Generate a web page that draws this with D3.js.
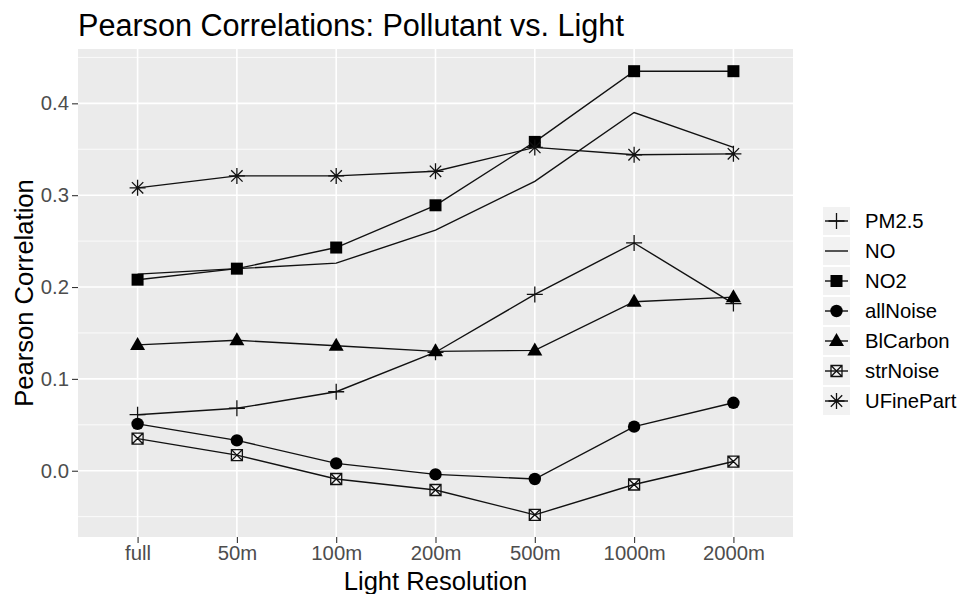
<!DOCTYPE html>
<html>
<head>
<meta charset="utf-8">
<script src="https://cdn.jsdelivr.net/npm/d3@7"></script>
<style>
  body { margin: 0; background: #fff; }
  text { font-family: "Liberation Sans", Arial, Helvetica, sans-serif; }
</style>
</head>
<body>
<svg id="chart" width="960" height="594"></svg>
<script>
var categories = ["full", "50m", "100m", "200m", "500m", "1000m", "2000m"]
var seriesNames = ["PM2.5", "NO", "NO2", "allNoise", "BlCarbon", "strNoise", "UFinePart"]
var seriesShapes = ["plus", "none", "square", "circle", "triangle", "squarecross", "asterisk"]

var pm25      = [0.061, 0.068, 0.086, 0.129, 0.192, 0.248, 0.182]
var no        = [0.214, 0.220, 0.226, 0.262, 0.315, 0.390, 0.352]
var no2       = [0.208, 0.220, 0.243, 0.289, 0.358, 0.435, 0.435]
var allNoise  = [0.051, 0.033, 0.008, -0.004, -0.009, 0.048, 0.074]
var blCarbon  = [0.137, 0.142, 0.136, 0.130, 0.131, 0.184, 0.189]
var strNoise  = [0.035, 0.017, -0.009, -0.021, -0.048, -0.015, 0.010]
var uFinePart = [0.308, 0.321, 0.321, 0.326, 0.352, 0.344, 0.345]

var yTicks = [0.0, 0.1, 0.2, 0.3, 0.4]
var yMinor = [-0.05, 0.05, 0.15, 0.25, 0.35, 0.45]

var allValues = [pm25, no, no2, allNoise, blCarbon, strNoise, uFinePart]
var series = seriesNames.map(function (name, i) {
  return { name: name, shape: seriesShapes[i], values: allValues[i] }
})

var panel = { left: 78, right: 793, top: 49, bottom: 537 }
var svg = d3.select("#chart")

var x = d3.scalePoint()
  .domain(categories)
  .range([panel.left, panel.right])
  .padding(0.6)

var ext = d3.extent(d3.merge(allValues))
var pad = (ext[1] - ext[0]) * 0.05
var y = d3.scaleLinear()
  .domain([ext[0] - pad, ext[1] + pad])
  .range([panel.bottom, panel.top])

// panel background + grid
svg.append("rect")
  .attr("x", panel.left).attr("y", panel.top)
  .attr("width", panel.right - panel.left)
  .attr("height", panel.bottom - panel.top)
  .attr("fill", "#ebebeb")

var grid = svg.append("g")
grid.selectAll(".minor").data(yMinor).enter().append("line")
  .attr("x1", panel.left).attr("x2", panel.right)
  .attr("y1", function (d) { return y(d) }).attr("y2", function (d) { return y(d) })
  .attr("stroke", "#fff").attr("stroke-width", 0.8)
grid.selectAll(".major").data(yTicks).enter().append("line")
  .attr("x1", panel.left).attr("x2", panel.right)
  .attr("y1", function (d) { return y(d) }).attr("y2", function (d) { return y(d) })
  .attr("stroke", "#fff").attr("stroke-width", 1.6)
grid.selectAll(".vmajor").data(categories).enter().append("line")
  .attr("x1", function (d) { return x(d) }).attr("x2", function (d) { return x(d) })
  .attr("y1", panel.top).attr("y2", panel.bottom)
  .attr("stroke", "#fff").attr("stroke-width", 1.6)

// axes
var xAxis = svg.append("g")
  .attr("transform", "translate(0," + panel.bottom + ")")
  .call(d3.axisBottom(x).tickSize(6).tickPadding(3))
var yAxis = svg.append("g")
  .attr("transform", "translate(" + panel.left + ",0)")
  .call(d3.axisLeft(y).tickValues(yTicks).tickFormat(d3.format(".1f")).tickSize(6).tickPadding(3))

;[xAxis, yAxis].forEach(function (a) {
  a.select(".domain").remove()
  a.selectAll(".tick line").attr("stroke", "#333").attr("stroke-width", 1.1)
  a.selectAll(".tick text")
    .attr("fill", "#4d4d4d")
    .style("font-size", "20.3px")
    .style("font-family", "'Liberation Sans', Arial, sans-serif")
})

// lines
var line = d3.line()
  .x(function (d, i) { return x(categories[i]) })
  .y(function (d) { return y(d) })

svg.append("g").selectAll("path").data(series).enter().append("path")
  .attr("d", function (d) { return line(d.values) })
  .attr("fill", "none")
  .attr("stroke", "#111")
  .attr("stroke-width", 1.4)

function drawShape(sel, shape) {
  if (shape == "plus") {
    sel.append("path").attr("d", "M-8,0H8M0,-8V8")
      .attr("stroke", "#111").attr("stroke-width", 1.3).attr("fill", "none")
  } else if (shape == "square") {
    sel.append("rect").attr("x", -6).attr("y", -6).attr("width", 12).attr("height", 12)
      .attr("fill", "#000")
  } else if (shape == "circle") {
    sel.append("circle").attr("r", 6.2).attr("fill", "#000")
  } else if (shape == "triangle") {
    sel.append("path").attr("d", "M0,-8L7.5,5L-7.5,5Z").attr("fill", "#000")
  } else if (shape == "squarecross") {
    sel.append("path").attr("d", "M-5.5,-5.5H5.5V5.5H-5.5ZM-5.5,-5.5L5.5,5.5M5.5,-5.5L-5.5,5.5")
      .attr("stroke", "#111").attr("stroke-width", 1.3).attr("fill", "none")
  } else if (shape == "asterisk") {
    sel.append("path").attr("d", "M-8,0H8M0,-8V8M-5.7,-5.7L5.7,5.7M5.7,-5.7L-5.7,5.7")
      .attr("stroke", "#111").attr("stroke-width", 1.3).attr("fill", "none")
  }
}

// points
series.forEach(function (s) {
  if (s.shape == "none") return
  s.values.forEach(function (v, i) {
    var p = svg.append("g").attr("transform", "translate(" + x(categories[i]) + "," + y(v) + ")")
    drawShape(p, s.shape)
  })
})

// legend
var legend = svg.append("g").attr("transform", "translate(823,207)")
series.forEach(function (s, i) {
  var k = legend.append("g").attr("transform", "translate(0," + (i * 30) + ")")
  k.append("rect").attr("width", 27).attr("height", 28).attr("fill", "#f2f2f2")
  k.append("line").attr("x1", 2).attr("x2", 25).attr("y1", 14).attr("y2", 14)
    .attr("stroke", "#111").attr("stroke-width", 1.4)
  drawShape(k.append("g").attr("transform", "translate(13.5,14)"), s.shape)
  k.append("text").attr("x", 42).attr("y", 14).attr("dy", "0.36em")
    .style("font-size", "20.3px").attr("fill", "#000")
    .text(s.name)
})

// titles
svg.append("text")
  .attr("x", panel.left).attr("y", 36)
  .style("font-size", "30.6px").attr("fill", "#000")
  .text("Pearson Correlations: Pollutant vs. Light")

svg.append("text")
  .attr("x", (panel.left + panel.right) / 2).attr("y", 590)
  .attr("text-anchor", "middle")
  .style("font-size", "25.6px").attr("fill", "#000")
  .text("Light Resolution")

svg.append("text")
  .attr("transform", "translate(33," + ((panel.top + panel.bottom) / 2) + ") rotate(-90)")
  .attr("text-anchor", "middle")
  .style("font-size", "25.6px").attr("fill", "#000")
  .text("Pearson Correlation")
</script>
</body>
</html>
